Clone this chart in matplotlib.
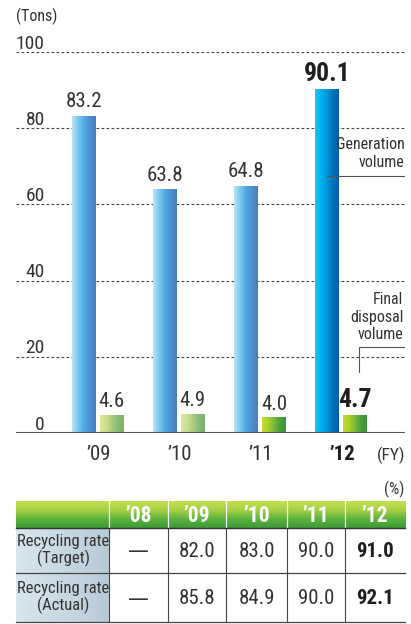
import numpy as np
import matplotlib
matplotlib.use('Agg')
import matplotlib.pyplot as plt
from matplotlib.colors import LinearSegmentedColormap

plt.rcParams['font.family'] = ['Roboto Condensed', 'DejaVu Sans']

# data
years = ["’09", "’10", "’11", "’12"]
generation = [83.2, 63.8, 64.8, 90.1]
final_disposal = [4.6, 4.9, 4.0, 4.7]
yticks = [0, 20, 40, 60, 80, 100]

table_years = ["’08", "’09", "’10", "’11", "’12"]
table_rows = ["Recycling rate\n(Target)", "Recycling rate\n(Actual)"]
target_rate = ["—", "82.0", "83.0", "90.0", "91.0"]
actual_rate = ["—", "85.8", "84.9", "90.0", "92.1"]

W, H = 411, 624
fig = plt.figure(figsize=(W / 100, H / 100), dpi=100)
txt = '#333333'
dark = '#1e1e1e'

# ---------------- bar chart
ax = fig.add_axes([16 / W, 1 - 433 / H, (405 - 16) / W, (433 - 52) / H])
ax.axis('off')

x = np.arange(len(years))
bw = 0.296
off = 0.173

blue_old = LinearSegmentedColormap.from_list('b', ['#b8e4f8', '#7ccaf0', '#4eaae2', '#4f8fcf', '#4a7fbf'])
blue_new = LinearSegmentedColormap.from_list('b2', ['#20c2f2', '#00b2ec', '#0098d8', '#0072ba', '#005ea8'])
green_old = LinearSegmentedColormap.from_list('g', ['#dde89a', '#cde08e', '#a8cc84', '#8abc76', '#7aaf6c'])
green_new = LinearSegmentedColormap.from_list('g2', ['#c4dc30', '#acce2c', '#7ab83a', '#4aa03a', '#3a9238'])
grad = np.linspace(0, 1, 64).reshape(1, -1)


def gradient_bars(bars, cmaps):
    for b, cm in zip(bars, cmaps):
        x0, y0 = b.get_x(), b.get_y()
        ax.imshow(grad, cmap=cm, aspect='auto', extent=[x0, x0 + b.get_width(), y0, y0 + b.get_height()],
                  zorder=3, interpolation='bilinear')
        b.set_visible(False)


gb = ax.bar(x - off, generation, bw, color='#5ab8ea')
fb = ax.bar(x + off, final_disposal, bw, color='#a8cc84')
gradient_bars(gb, [blue_old] * 3 + [blue_new])
gradient_bars(fb, [green_old] * 2 + [green_new] * 2)
ax.set_xlim(-1.01, 3.79)
ax.set_ylim(0, 100)

for yt in yticks:
    if yt > 0:
        ax.axhline(yt, color='#444444', lw=0.8, ls=(0, (2.5, 2)), zorder=1)
    ax.text(-0.655, yt + 0.9, str(yt), ha='right', va='baseline', fontsize=14, color=txt, clip_on=False)
ax.axhline(0, color='#555555', lw=1.5, zorder=4)
ax.text(-1.01, 108, '(Tons)', ha='left', va='baseline', fontsize=11.5, color=txt, clip_on=False)

for i in range(len(years)):
    bold = i == len(years) - 1
    ax.text(x[i] - off, generation[i] + 2.4, f'{generation[i]:.1f}', ha='center', va='baseline',
            fontsize=18.5 if bold else 15, fontweight='bold' if bold else 'normal', color=dark if bold else txt,
            clip_on=False)
    ax.text(x[i] + off, final_disposal[i] + 2.1, f'{final_disposal[i]:.1f}', ha='center', va='baseline',
            fontsize=18.5 if bold else 15, fontweight='bold' if bold else 'normal', color=dark if bold else txt)
    ax.text(x[i] + 0.01, -7.1, years[i], ha='center', va='baseline', fontsize=15,
            fontweight='bold' if bold else 'normal', color=dark if bold else txt, clip_on=False)
ax.text(3.79, -7.1, '(FY)', ha='right', va='baseline', fontsize=12.5, color=txt, clip_on=False)

# leader lines + labels
ax.plot([3 - off, 3.79], [67.5, 67.5], color='#555555', lw=0.8, zorder=5)
ax.text(3.785, 69.8, 'Generation\nvolume', ha='right', va='baseline', fontsize=11.5, color=txt,
        linespacing=1.22)
ax.plot([3.222, 3.222, 3.79], [16, 22.6, 22.6], color='#555555', lw=0.8, zorder=5)
ax.text(3.77, 24.6, 'Final\ndisposal\nvolume', ha='right', va='baseline', fontsize=11.5, color=txt,
        linespacing=1.22)

# ---------------- table
tx = fig.add_axes([0, 0, 1, 1])
tx.axis('off')

col_edges = [16, 109, 168, 226, 287, 345, 405]
row_edges = [501, 528, 573, 622]

hdr = LinearSegmentedColormap.from_list('h', ['#c4df50', '#a6d044', '#5cb23e', '#3c9a36'])
tx.imshow(np.linspace(0, 1, 64).reshape(-1, 1), cmap=hdr, aspect='auto',
          extent=[col_edges[0], col_edges[-1], row_edges[1], row_edges[0]], interpolation='bilinear')
side = LinearSegmentedColormap.from_list('s', ['#d8e6ee', '#c8d9e3', '#b6cad6'])
tx.imshow(np.linspace(0, 1, 64).reshape(1, -1), cmap=side, aspect='auto',
          extent=[col_edges[0], col_edges[1], row_edges[3], row_edges[1]], interpolation='bilinear')
tx.set_xlim(0, W)
tx.set_ylim(H, 0)

tx.text(404, 494, '(%)', ha='right', va='baseline', fontsize=11.5, color=txt)

for xe in col_edges[1:-1]:
    tx.plot([xe, xe], [row_edges[0], row_edges[1]], color='white', lw=0.9)
    tx.plot([xe, xe], [row_edges[1], row_edges[3]], color='#444444', lw=0.8)
tx.plot([16, 405], [row_edges[1], row_edges[1]], color='#333333', lw=1.0)
tx.plot([16, 405], [row_edges[2], row_edges[2]], color='#444444', lw=0.9)
tx.plot([16, 405], [row_edges[3], row_edges[3]], color='#444444', lw=0.9)

for j, yr in enumerate(table_years):
    cx = (col_edges[j + 1] + col_edges[j + 2]) / 2
    tx.text(cx, (row_edges[0] + row_edges[1]) / 2 + 1, yr, ha='center', va='center',
            fontsize=15.5, fontweight='bold', color='white')

for r, (lab, vals) in enumerate(zip(table_rows, [target_rate, actual_rate])):
    cy = (row_edges[r + 1] + row_edges[r + 2]) / 2
    tx.text((col_edges[0] + col_edges[1]) / 2 + 1, cy, lab, ha='center', va='center',
            fontsize=12, color=txt, linespacing=1.0)
    for j, v in enumerate(vals):
        cx = (col_edges[j + 1] + col_edges[j + 2]) / 2
        bold = j == len(vals) - 1
        fam = ['DejaVu Sans'] if v == '—' else None
        tx.text(cx, cy + 1, v, ha='center', va='center', fontsize=15, family=fam,
                fontweight='bold' if bold else 'normal', color=dark if bold else txt)

fig.savefig('out.png', dpi=100)
